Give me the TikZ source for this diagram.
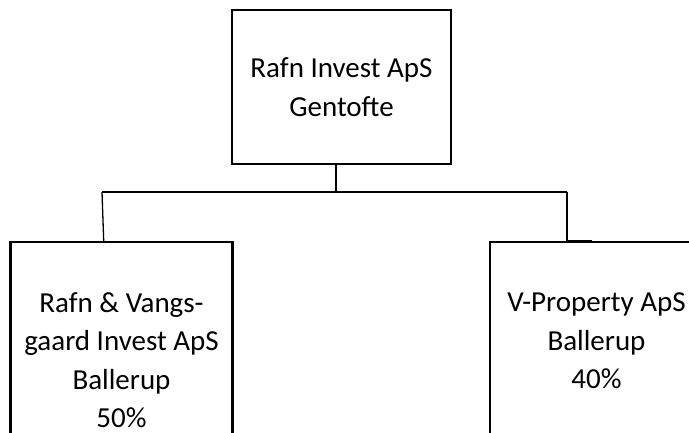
\documentclass[tikz,border=0pt]{standalone}
\usepackage{fontspec}
\setmainfont{Carlito}
\begin{document}
\begin{tikzpicture}[x=1pt,y=-1pt,
  boxstyle/.style={draw=black,line width=2.6pt,align=center,inner sep=0pt,
    font=\fontsize{29}{38.5}\selectfont},
  conn/.style={draw=black,line width=1.3pt}]
\useasboundingbox (0,0) rectangle (689,433);
\clip (0,0) rectangle (689,433);
\node[boxstyle,minimum width=219pt,minimum height=154pt] (top) at (341.5,87) {Rafn Invest ApS\\Gentofte};
\node[boxstyle,minimum width=222pt,minimum height=236pt] (left) at (121.5,360) {Rafn \& Vangs-\\gaard Invest ApS\\Ballerup\\50\%};
\node[boxstyle,minimum width=213pt,minimum height=198pt] (right) at (596.5,341) {V-Property ApS\\Ballerup\\40\%};
\coordinate (jc) at (336,192);
\coordinate (jl) at (102,192);
\coordinate (jr) at (567,192);
\coordinate (el) at (103.7,241);
\coordinate (er) at (567,241);
\coordinate (es) at (592,241);
\draw[conn] (top.south -| jc) -- (jc);
\draw[conn] (jl) -- (jr);
\draw[conn] (jl) -- (el);
\draw[conn] (jr) -- (er);
\draw[conn] (er) -- (es);
\end{tikzpicture}
\end{document}
